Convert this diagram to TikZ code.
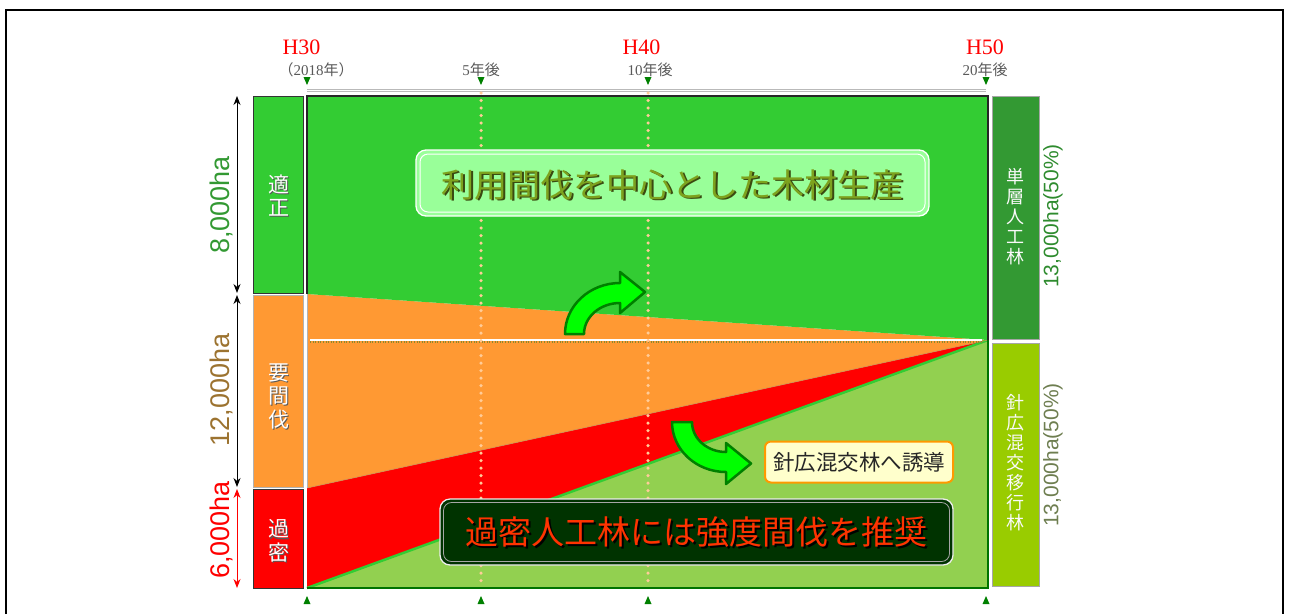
\documentclass[tikz,border=0pt]{standalone}
\usepackage{fontspec}
\setmainfont{Liberation Sans}
\newfontfamily\cjk{Noto Sans CJK JP}
\newfontfamily\serif{Liberation Serif}
\usetikzlibrary{arrows.meta}
\definecolor{mgreen}{HTML}{33CC33}
\definecolor{morange}{HTML}{FF9933}
\definecolor{mred}{HTML}{FF0000}
\definecolor{lgreen}{HTML}{92D050}
\definecolor{dgreen}{HTML}{339933}
\definecolor{ygreen}{HTML}{99CC00}
\definecolor{boxgreen}{HTML}{99FF99}
\definecolor{darkbox}{HTML}{003300}
\definecolor{peach}{HTML}{FFCC99}
\definecolor{arrowg}{HTML}{00FF00}
\definecolor{arrowo}{HTML}{008000}
\definecolor{olivetxt}{HTML}{7DA21E}
\definecolor{olivesh}{HTML}{3A4A10}
\definecolor{brown12}{HTML}{9C7330}
\definecolor{redtxt}{HTML}{FF3300}
\definecolor{green8}{HTML}{339933}
\definecolor{green13}{HTML}{2E8B2E}
\definecolor{gray13}{HTML}{6E7E50}
\definecolor{yellowbox}{HTML}{FFFFCC}
\definecolor{orangeline}{HTML}{FF9900}
\tikzset{
 lbox/.style={rectangle, inner sep=0pt, minimum width=50pt, line width=0.8pt},
 rbox/.style={rectangle, inner sep=0pt, minimum width=47pt, minimum height=243pt, draw=gray!70, line width=0.8pt},
 vtxt/.style={font=\cjk\fontsize{21}{23.5}\selectfont, align=center, text=white, inner sep=0pt},
 vtxtsh/.style={vtxt, text=black!65},
 rvtxt/.style={font=\cjk\fontsize{18}{20}\selectfont, align=center, text=white!95!gray, inner sep=0pt},
 hdr/.style={font=\serif\fontsize{22}{22}\selectfont, text=red, inner sep=0pt},
 yr/.style={font=\serif\fontsize{15}{15}\selectfont, text=black!65, inner sep=0pt},
 dimlab/.style={rotate=90, font=\fontsize{27}{27}\selectfont, inner sep=0pt},
 rdimlab/.style={rotate=90, font=\fontsize{21}{21}\selectfont, inner sep=0pt},
 dimarrow/.style={{Stealth[length=9pt,width=7pt]}-{Stealth[length=9pt,width=7pt]}, line width=1pt},
 rdim/.style={draw=gray!55, double=white, double distance=1.2pt, line width=0.5pt},
 dotline/.style={peach, line width=3.5pt, line cap=round, dash pattern=on 0pt off 7.5pt},
 tri/.style={fill=arrowo},
 fatarrow/.style={fill=arrowg, draw=arrowo, line width=2.5pt, line join=round},
 bigtxt/.style={font=\cjk\fontsize{33}{33}\selectfont, inner sep=0pt},
}
\begin{document}
\begin{tikzpicture}[x=1pt,y=-1pt]
\useasboundingbox (0,0) rectangle (1289,614);
% outer frame
\draw[line width=2pt] (6,614) -- (6,10) -- (1283,10) -- (1283,614);

% main chart corners
\coordinate (TL) at (307,96);
\coordinate (TR) at (988,96);
\coordinate (BR) at (988,588);
\coordinate (BL) at (307,588);
\coordinate (OL) at (307,294);
\coordinate (AP) at (988,340);
\coordinate (RL) at (307,488);
\fill[lgreen] (BL) -- (AP) -- (BR) -- cycle;
\fill[mred] (RL) -- (AP) -- (BL) -- cycle;
\fill[morange] (OL) -- (AP) -- (RL) -- cycle;
\fill[mgreen] (TL) -- (TR) -- (AP) -- (OL) -- cycle;
\draw[mgreen, line width=2.5pt] (BL) -- (AP);
\draw[gray!40!morange, line width=0.6pt] (RL) -- (AP);
\draw[gray!60, line width=1pt] (OL) -- (RL);
\draw[green!45!black, line width=1.2pt] (BL) -- (BR) -- (AP);
\draw[black!85, line width=1.6pt] (OL) -- (TL) -- (TR) -- (AP);

% white dashed middle line
\coordinate (WL) at (310,340);
\coordinate (WR) at (982,340);
\draw[white, line width=2pt] (WL) -- (WR);
\draw[olive!70!gray, line width=1.2pt, dash pattern=on 0.8pt off 1.8pt] ([yshift=-2pt]WL) -- ([yshift=-2pt]WR);

% top timeline
\coordinate (TA) at (307,90.5);
\coordinate (TB) at (986,90.5);
\draw[rdim] (TA) -- (TB);

% dotted verticals
\coordinate (V5t) at (481,93);
\coordinate (V5b) at (481,586);
\coordinate (V10t) at (648,93);
\coordinate (V10b) at (648,586);
\draw[dotline] (V5t) -- (V5b);
\draw[dotline] (V10t) -- (V10b);

% triangles
\foreach \x in {307,481,648,986}{
  \fill[tri] (\x-3.5,77) -- (\x+3.5,77) -- (\x,85) -- cycle;
  \fill[tri] (\x-3.5,604) -- (\x+3.5,604) -- (\x,596) -- cycle;
}

% headers
\node[hdr] (h30) at (301.5,47.5) {H30};
\node[hdr] (h40) at (641.5,47.5) {H40};
\node[hdr] (h50) at (985,47.5) {H50};
\node[yr] (y0) at (316,70) {\cjk（\serif 2018\cjk 年）};
\node[yr] (y5) at (481,70) {5\cjk 年後};
\node[yr] (y10) at (650,70) {10\cjk 年後};
\node[yr] (y20) at (985,70) {20\cjk 年後};

% left boxes
\node[lbox, fill=mgreen, draw=black!80, minimum height=197pt] (lb1) at (278,194.5) {};
\node[lbox, fill=morange, draw=gray!60, minimum height=192pt] (lb2) at (278,391) {};
\node[lbox, fill=mred, draw=black!80, minimum height=99pt] (lb3) at (278,538.5) {};
\node[vtxtsh] (lt1s) at (280.2,196.7) {適\\正};
\node[vtxt] (lt1) at (279,195.5) {適\\正};
\node[vtxtsh] (lt2s) at (280.2,397.2) {要\\間\\伐};
\node[vtxt] (lt2) at (279,396) {要\\間\\伐};
\node[vtxtsh] (lt3s) at (280.2,542.2) {過\\密};
\node[vtxt] (lt3) at (279,541) {過\\密};

% left dimensions
\coordinate (d1) at (237,96);
\coordinate (d2) at (237,293);
\coordinate (d3) at (237,295);
\coordinate (d4) at (237,487);
\coordinate (d5) at (237,489);
\coordinate (d6) at (237,588);
\draw[dimarrow] (d1) -- (d2);
\draw[dimarrow] (d3) -- (d4);
\draw[dimarrow, red] (d5) -- (d6);
\node[dimlab, text=green8] (l8) at (221,205) {8,000ha};
\node[dimlab, text=brown12] (l12) at (221,390) {12,000ha};
\node[dimlab, text=red] (l6) at (221,530) {6,000ha};

% right boxes
\node[rbox, fill=dgreen] (rb1) at (1015.5,217.5) {};
\node[rbox, fill=ygreen] (rb2) at (1015.5,464.5) {};
\node[rvtxt] (rt1) at (1015,217) {単\\層\\人\\工\\林};
\node[rvtxt] (rt2) at (1015,463) {針\\広\\混\\交\\移\\行\\林};

% right dimensions
\coordinate (r1) at (1061,96);
\coordinate (r2) at (1061,338);
\coordinate (r3) at (1061,344);
\coordinate (r4) at (1061,588);
\draw[rdim] (r1) -- (r2);
\draw[rdim] (r3) -- (r4);
\node[rdimlab, text=green13] (rl1) at (1053,216) {13,000ha(50\%)};
\node[rdimlab, text=gray13] (rl2) at (1053,455) {13,000ha(50\%)};

% top text box
\node[draw=white, line width=1.3pt, fill=boxgreen, rounded corners=10pt, minimum width=513pt, minimum height=66pt, inner sep=0pt] (tb) at (672.5,183) {};
\node[draw=white, line width=1pt, rounded corners=8pt, minimum width=505pt, minimum height=58pt, inner sep=0pt] (tbi) at (672.5,183) {};
\node[bigtxt, text=olivesh] (tts) at (674,186.5) {利用間伐を中心とした木材生産};
\node[bigtxt, text=olivetxt] (tt) at (672.5,185) {利用間伐を中心とした木材生産};

% bottom dark box
\node[draw=white!85!gray, line width=1.3pt, fill=darkbox, rounded corners=10pt, minimum width=513pt, minimum height=66pt, inner sep=0pt] (bb) at (696.5,532) {};
\node[draw=gray!70, line width=0.8pt, rounded corners=8pt, minimum width=506pt, minimum height=59pt, inner sep=0pt] (bbi) at (696.5,532) {};
\node[bigtxt, text=black] (bts) at (698,534) {過密人工林には強度間伐を推奨};
\node[bigtxt, text=redtxt] (bt) at (696.5,532.5) {過密人工林には強度間伐を推奨};

% yellow box
\node[draw=orangeline, line width=2pt, fill=yellowbox, rounded corners=6pt, minimum width=188pt, minimum height=41pt, inner sep=0pt, font=\cjk\fontsize{21.5}{21.5}\selectfont, text=black!85] (yb) at (859,462) {針広混交林へ誘導};

% fat curved arrows
\filldraw[fatarrow] (565,334) .. controls (565,305.8) and (589.6,283) .. (620,283)
  -- (620,272) -- (645,292) -- (620,313) -- (620,303)
  .. controls (600.1,303) and (584,316.9) .. (584,334) -- cycle;
\filldraw[fatarrow] (672,422) .. controls (672,449.6) and (696.2,472) .. (726,472)
  -- (726,484) -- (751,463.5) -- (726,443) -- (726,452)
  .. controls (707.2,452) and (692,438.6) .. (692,422) -- cycle;
\end{tikzpicture}
\end{document}
